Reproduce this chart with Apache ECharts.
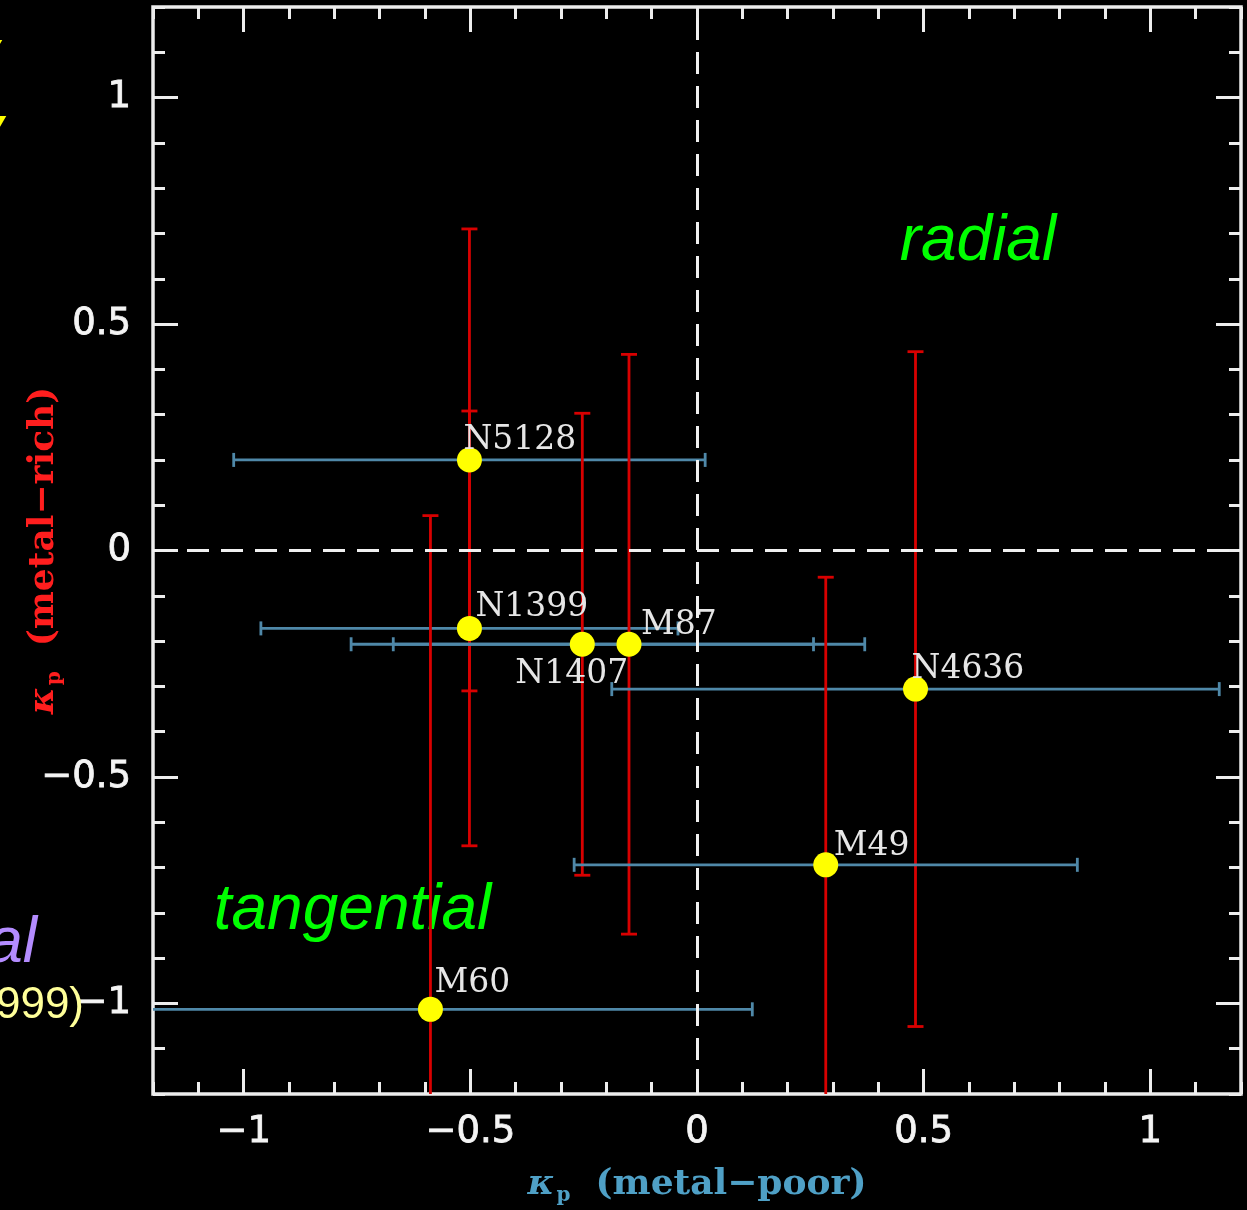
<!DOCTYPE html>
<html>
<head>
<meta charset="utf-8">
<title>Kinematics of globular cluster subpopulations</title>
<script src="https://cdn.jsdelivr.net/npm/echarts@6/dist/echarts.min.js"></script>
<style>
  html, body { margin: 0; padding: 0; background: #000; }
  #chart { width: 1247px; height: 1210px; }
</style>
</head>
<body>
<div id="chart"></div>
<script>
// Galaxy names
const galaxies = ['N5128', 'N1399', 'N1407', 'M87', 'N4636', 'M49', 'M60'];
// anisotropy parameter of the metal-poor clusters
const kappaPoor = [-0.502, -0.502, -0.253, -0.150, 0.482, 0.284, -0.588];
// anisotropy parameter of the metal-rich clusters
const kappaRich = [0.200, -0.172, -0.207, -0.207, -0.306, -0.694, -1.013];
// uncertainties (symmetric)
const errPoor = [0.52, 0.46, 0.51, 0.52, 0.67, 0.555, 0.71];
const errRich = [0.51, 0.48, 0.51, 0.64, 0.745, 0.635, 1.09];

// Axis ticks
const majorTicks = [-1, -0.5, 0, 0.5, 1];
const axisMin = -1.2;
const axisMax = 1.2;
const minorStep = 0.1;

// Region annotations: [x, y, text]
const regionNotes = [
  [0.447, 0.681, 'radial'],
  [-1.066, -0.797, 'tangential']
];

// Where each galaxy label sits relative to its point (px)
const labelShift = {
  N5128: [-6, -19],
  N1399: [6, -21],
  N1407: [-67, 30],
  M87: [12, -19],
  N4636: [-4, -20],
  M49: [8, -18],
  M60: [4, -26]
};

const frameColor = '#ededed';
const fmt = v => (v < 0 ? '\u2212' + Math.abs(v) : String(v));

function majorAxis(position, withLabels) {
  return {
    type: 'value', position, min: axisMin, max: axisMax,
    axisLine: { show: false, onZero: false },
    splitLine: { show: false },
    axisTick: { show: true, inside: true, length: 25, customValues: majorTicks,
      lineStyle: { color: frameColor, width: 3 } },
    axisLabel: withLabels ? {
      show: true, customValues: majorTicks, formatter: fmt,
      color: '#f4f4f4', fontFamily: 'DejaVu Sans', fontSize: 37,
      textBorderColor: '#f4f4f4', textBorderWidth: 0.8,
      margin: position === 'left' ? 22 : 20
    } : { show: false }
  };
}
function minorAxis(position) {
  return {
    type: 'value', position, min: axisMin, max: axisMax, interval: minorStep,
    axisLine: { show: false, onZero: false },
    splitLine: { show: false },
    axisTick: { show: true, inside: true, length: 12, lineStyle: { color: frameColor, width: 3 } },
    axisLabel: { show: false }
  };
}

const xBottom = majorAxis('bottom', true);
xBottom.name = '{k|\u03ba}{s|p}  (metal\u2212poor)';
xBottom.nameLocation = 'middle';
xBottom.nameGap = 70;
xBottom.nameMoveOverlap = false;
xBottom.nameTextStyle = {
  color: '#4fa0c6', fontFamily: 'DejaVu Serif', fontWeight: 'bold', fontSize: 36,
  rich: {
    k: { color: '#4fa0c6', fontFamily: 'DejaVu Serif', fontWeight: 'bold', fontStyle: 'italic', fontSize: 36 },
    s: { color: '#4fa0c6', fontFamily: 'DejaVu Serif', fontWeight: 'bold', fontSize: 20, padding: [22, 0, 0, 2] }
  }
};

const yLeft = majorAxis('left', true);
yLeft.name = '{k|\u03ba}{s|p}  (metal\u2212rich)';
yLeft.nameLocation = 'middle';
yLeft.nameGap = 88;
yLeft.nameMoveOverlap = false;
yLeft.nameTextStyle = {
  color: '#ff1e1e', fontFamily: 'DejaVu Serif', fontWeight: 'bold', fontSize: 36,
  rich: {
    k: { color: '#ff1e1e', fontFamily: 'DejaVu Serif', fontWeight: 'bold', fontStyle: 'italic', fontSize: 36 },
    s: { color: '#ff1e1e', fontFamily: 'DejaVu Serif', fontWeight: 'bold', fontSize: 20, padding: [22, 0, 0, 2] }
  }
};

const points = galaxies.map((n, i) => ({
  name: n,
  value: [kappaPoor[i], kappaRich[i]],
  label: { offset: labelShift[n] }
}));
const bars = galaxies.map((n, i) => [kappaPoor[i], kappaRich[i], errPoor[i], errRich[i]]);

function renderErrorBars(params, api) {
  const x = api.value(0), y = api.value(1), ex = api.value(2), ey = api.value(3);
  const x0 = Math.max(x - ex, axisMin), x1 = Math.min(x + ex, axisMax);
  const y0 = Math.max(y - ey, axisMin), y1 = Math.min(y + ey, axisMax);
  const pl = api.coord([x0, y]), pr = api.coord([x1, y]);
  const pb = api.coord([x, y0]), pt = api.coord([x, y1]);
  const blue = { stroke: '#4f88a8', lineWidth: 2.8 };
  const red = { stroke: '#d80000', lineWidth: 2.8 };
  const kids = [
    { type: 'line', shape: { x1: pl[0], y1: pl[1], x2: pr[0], y2: pr[1] }, style: blue }
  ];
  if (x0 === x - ex) kids.push({ type: 'line', shape: { x1: pl[0], y1: pl[1] - 7, x2: pl[0], y2: pl[1] + 7 }, style: blue });
  if (x1 === x + ex) kids.push({ type: 'line', shape: { x1: pr[0], y1: pr[1] - 7, x2: pr[0], y2: pr[1] + 7 }, style: blue });
  kids.push({ type: 'line', shape: { x1: pb[0], y1: pb[1], x2: pt[0], y2: pt[1] }, style: red });
  if (y0 === y - ey) kids.push({ type: 'line', shape: { x1: pb[0] - 8, y1: pb[1], x2: pb[0] + 8, y2: pb[1] }, style: red });
  if (y1 === y + ey) kids.push({ type: 'line', shape: { x1: pt[0] - 8, y1: pt[1], x2: pt[0] + 8, y2: pt[1] }, style: red });
  return { type: 'group', children: kids };
}

const chart = echarts.init(document.getElementById('chart'), null, { renderer: 'canvas' });
chart.setOption({
  backgroundColor: '#000',
  animation: false,
  grid: {
    left: 153, top: 7, right: 6, bottom: 116,
    show: true, borderColor: frameColor, borderWidth: 3.5, backgroundColor: 'transparent',
    outerBoundsMode: 'none'
  },
  xAxis: [xBottom, minorAxis('bottom'), majorAxis('top', false), minorAxis('top')],
  yAxis: [yLeft, minorAxis('left'), majorAxis('right', false), minorAxis('right')],
  graphic: [
    // fragments of neighbouring slide text at the left edge
    { type: 'text', z: 100, style: { text: 'y', x: -1, y: 56, align: 'right', verticalAlign: 'middle',
        font: 'italic 64px "Liberation Sans"', fill: '#ffff00' } },
    { type: 'text', z: 100, style: { text: 'y', x: 3, y: 132, align: 'right', verticalAlign: 'middle',
        font: 'italic 64px "Liberation Sans"', fill: '#ffff00' } },
    { type: 'text', z: 100, style: { text: 'al', x: 37, y: 944, align: 'right', verticalAlign: 'middle',
        font: 'italic 64px "Liberation Sans"', fill: '#b48cff' } },
    { type: 'text', z: 100, style: { text: '1999)', x: 84, y: 1006, align: 'right', verticalAlign: 'middle',
        font: '44px "Liberation Sans"', fill: '#ffff99' } }
  ],
  series: [
    {
      // zero lines
      type: 'scatter', data: [], z: 1, silent: true,
      markLine: {
        silent: true, symbol: 'none', label: { show: false },
        lineStyle: { color: '#f0f0f0', width: 3, type: [22, 12], opacity: 1 },
        data: [{ xAxis: 0 }, { yAxis: 0 }]
      }
    },
    {
      type: 'scatter', z: 2, silent: true, symbolSize: 0,
      itemStyle: { opacity: 1 },
      data: regionNotes,
      label: {
        show: true, position: 'inside', align: 'left', verticalAlign: 'middle',
        formatter: p => p.value[2], opacity: 1,
        color: '#00ff00', fontFamily: 'Liberation Sans', fontStyle: 'italic', fontSize: 64
      }
    },
    {
      type: 'custom', z: 3, silent: true,
      renderItem: renderErrorBars,
      data: bars
    },
    {
      type: 'scatter', z: 4,
      symbol: 'circle', symbolSize: 25,
      itemStyle: { color: '#ffff00', opacity: 1 },
      data: points,
      label: {
        show: true, position: 'inside', align: 'left', verticalAlign: 'middle',
        formatter: p => p.name,
        color: '#e6e6e6', fontFamily: 'DejaVu Serif', fontSize: 33
      }
    }
  ]
});
</script>
</body>
</html>
